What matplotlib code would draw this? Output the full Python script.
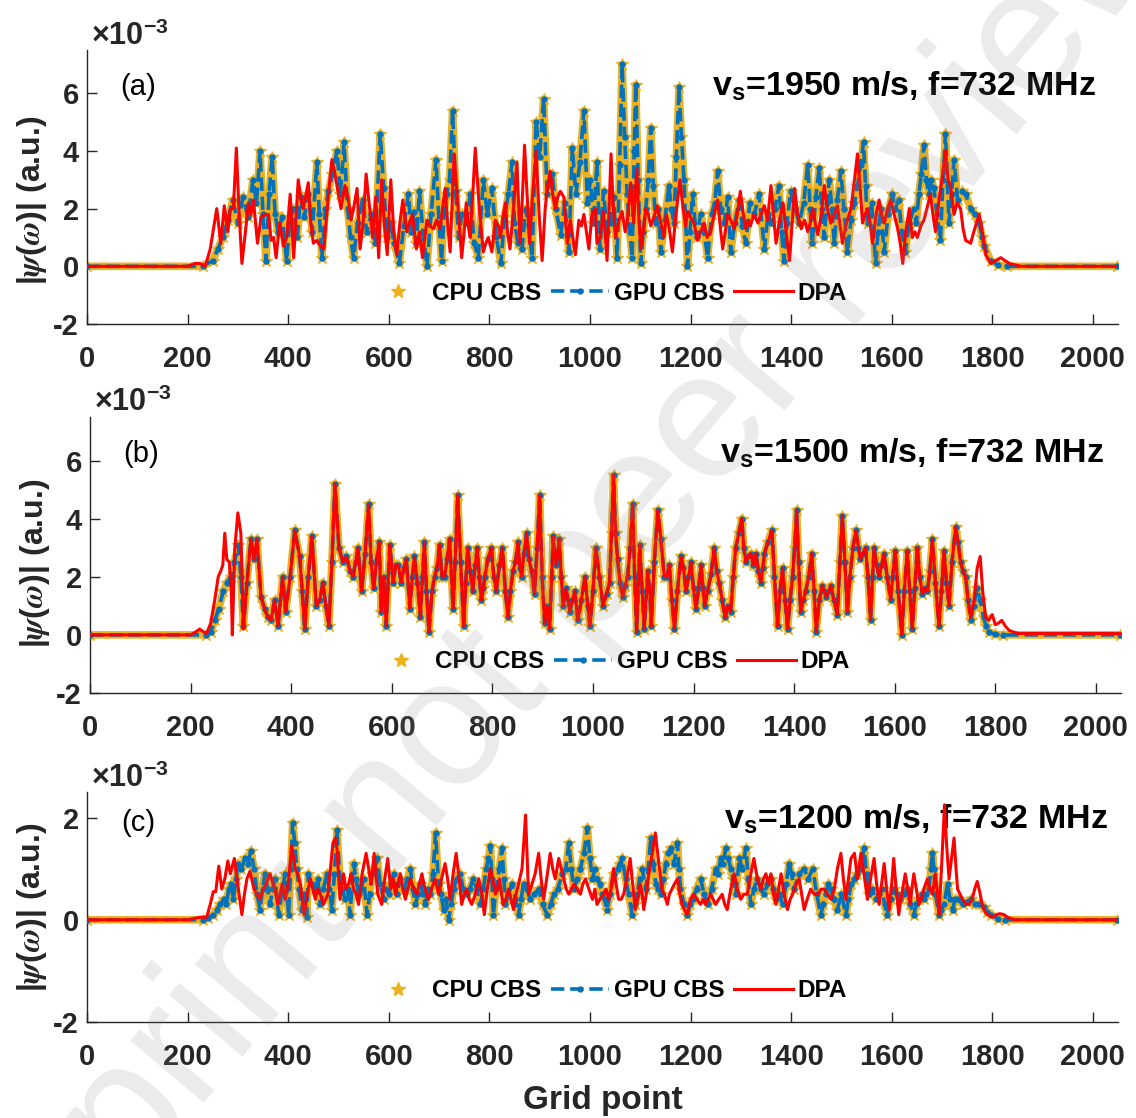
import numpy as np
import matplotlib
matplotlib.use("Agg")
import matplotlib.pyplot as plt
from matplotlib.lines import Line2D

# values in units of 1e-3 (the axes carry a x10^-3 multiplier)
# panel (a): v_s = 1950 m/s
a_cbs = [(0, 0.0), (230, 0.0), (250, 0.2), (260, 0.6), (270, 1.0), (280, 1.6), (290, 2.3), (300, 1.5),
         (310, 2.4), (320, 1.7), (330, 3.0), (337, 2.2), (344, 4.0), (350, 1.8), (356, 0.2), (362, 2.5),
         (368, 3.8), (374, 1.8), (380, 1.2), (388, 1.7), (397, 0.2), (403, 1.5), (410, 2.0), (418, 1.0),
         (425, 2.4), (432, 1.7), (440, 2.5), (448, 1.2), (457, 3.6), (462, 1.8), (467, 0.3), (474, 2.0),
         (480, 2.6), (488, 3.2), (497, 4.0), (504, 2.5), (511, 4.3), (518, 2.0), (524, 1.0), (530, 0.3),
         (538, 1.5), (548, 2.3), (556, 1.2), (565, 1.8), (573, 0.8), (583, 4.6), (590, 2.7), (597, 1.0),
         (603, 1.5), (611, 0.8), (621, 0.1), (630, 1.4), (639, 2.5), (645, 1.2), (650, 1.9), (655, 0.8),
         (661, 2.6), (668, 1.2), (676, 0.0), (684, 1.8), (694, 3.7), (700, 1.5), (705, 0.2), (710, 1.8),
         (715, 2.5), (721, 3.0), (727, 5.4), (733, 2.6), (739, 1.0), (745, 1.8), (755, 1.5), (762, 2.5),
         (770, 0.8), (778, 0.3), (788, 3.0), (796, 1.8), (805, 2.7), (814, 1.0), (823, 0.1), (830, 1.7),
         (838, 2.5), (845, 3.6), (850, 1.5), (857, 0.8), (865, 0.6), (872, 2.0), (878, 1.4), (885, 0.3),
         (893, 5.0), (900, 3.8), (908, 5.8), (915, 2.5), (925, 3.2), (932, 2.0), (942, 1.1), (950, 2.2),
         (958, 0.5), (965, 4.1), (972, 2.5), (980, 3.6), (988, 5.4), (995, 2.2), (1001, 3.0), (1007, 1.5),
         (1014, 3.6), (1020, 0.6), (1027, 2.6), (1034, 1.2), (1041, 1.5), (1047, 2.4), (1054, 0.3),
         (1059, 3.5), (1064, 7.0), (1069, 4.5), (1074, 2.5), (1079, 1.2), (1084, 0.3), (1088, 4.0),
         (1091, 6.3), (1096, 3.0), (1101, 0.1), (1106, 1.2), (1111, 2.0), (1116, 3.0), (1121, 4.8),
         (1126, 2.8), (1131, 1.5), (1136, 2.0), (1141, 0.5), (1149, 1.6), (1157, 2.8), (1162, 2.0),
         (1167, 1.5), (1172, 3.8), (1177, 6.2), (1182, 4.5), (1187, 3.0), (1194, 0.0), (1199, 1.2),
         (1204, 2.5), (1212, 1.0), (1220, 1.8), (1227, 1.2), (1234, 0.3), (1242, 1.8), (1248, 2.2),
         (1254, 3.3), (1260, 2.0), (1267, 1.5), (1274, 2.4), (1280, 0.5), (1288, 1.5), (1297, 2.3),
         (1303, 1.4), (1310, 0.8), (1318, 2.2), (1327, 1.8), (1336, 2.5), (1347, 0.6), (1354, 1.8),
         (1360, 1.5), (1368, 2.0), (1376, 2.8), (1381, 1.2), (1386, 0.2), (1392, 1.5), (1399, 2.6),
         (1408, 2.0), (1416, 1.5), (1425, 2.2), (1433, 3.5), (1438, 2.0), (1442, 0.8), (1449, 2.4),
         (1456, 3.4), (1461, 2.0), (1466, 1.0), (1471, 2.2), (1476, 3.0), (1481, 2.0), (1486, 0.8),
         (1492, 2.3), (1499, 3.3), (1505, 2.0), (1512, 0.5), (1519, 1.6), (1526, 2.2), (1532, 2.8),
         (1538, 3.5), (1544, 4.3), (1548, 2.8), (1552, 1.5), (1560, 2.2), (1568, 0.1), (1573, 1.2),
         (1578, 2.0), (1585, 0.5), (1593, 1.8), (1601, 2.5), (1607, 2.0), (1614, 2.3), (1620, 1.2),
         (1627, 0.5), (1635, 1.5), (1644, 2.0), (1649, 1.5), (1654, 2.5), (1659, 3.2), (1664, 4.2),
         (1669, 3.0), (1674, 2.5), (1679, 3.0), (1684, 2.7), (1690, 1.8), (1697, 0.9), (1702, 3.0),
         (1707, 4.6), (1711, 2.8), (1714, 1.5), (1719, 2.5), (1724, 3.7), (1731, 2.3), (1740, 2.6),
         (1747, 2.5), (1757, 2.0), (1765, 1.8), (1774, 1.5), (1780, 1.0), (1784, 0.7), (1797, 0.2),
         (1811, 0.05), (1830, 0.0), (2048, 0.0)]

a_dpa = [(0, 0.0), (200, 0.0), (215, 0.1), (225, 0.1), (235, 0.0), (245, 0.6), (258, 2.0), (266, 0.8),
         (273, 2.1), (280, 1.2), (285, 2.0), (291, 2.0), (297, 4.1), (302, 2.0), (308, 0.1), (315, 1.2),
         (321, 2.2), (326, 1.8), (331, 2.3), (339, 0.8), (346, 1.7), (354, 1.8), (361, 1.8), (366, 0.9),
         (371, 1.0), (376, 0.3), (383, 1.5), (391, 0.7), (397, 1.0), (404, 2.5), (411, 0.3), (420, 3.0),
         (425, 2.4), (430, 2.0), (440, 2.9), (445, 1.5), (450, 0.8), (457, 0.9), (464, 0.7), (471, 0.6),
         (480, 2.5), (487, 3.7), (492, 3.3), (497, 2.8), (505, 2.0), (513, 2.8), (519, 2.4), (525, 1.6),
         (530, 2.0), (537, 2.7), (543, 0.6), (549, 1.5), (555, 3.2), (561, 2.2), (568, 1.0), (574, 2.4),
         (580, 0.3), (586, 3.0), (591, 1.5), (597, 0.4), (604, 3.0), (610, 1.2), (616, 0.4), (622, 1.5),
         (628, 2.3), (636, 1.2), (641, 1.5), (647, 1.8), (655, 0.6), (661, 1.2), (667, 0.3), (676, 1.6),
         (682, 1.4), (689, 1.3), (695, 1.6), (702, 1.3), (707, 2.0), (712, 2.7), (717, 1.5), (722, 0.5),
         (730, 3.9), (738, 2.0), (745, 0.3), (750, 1.2), (754, 2.2), (758, 1.4), (762, 1.0), (767, 2.5),
         (772, 4.1), (780, 2.0), (788, 0.5), (793, 0.8), (798, 1.0), (805, 0.5), (812, 1.6), (818, 1.4),
         (822, 1.0), (828, 1.8), (832, 2.2), (836, 1.2), (841, 0.6), (848, 2.0), (855, 3.6), (861, 0.8),
         (866, 2.5), (870, 4.2), (875, 2.5), (880, 0.8), (886, 2.5), (893, 4.0), (899, 1.8), (905, 0.2),
         (911, 2.0), (916, 2.8), (921, 3.3), (926, 2.5), (931, 2.0), (936, 2.4), (941, 2.6), (948, 2.4),
         (955, 0.8), (961, 1.6), (966, 1.0), (971, 0.4), (978, 1.6), (983, 1.4), (988, 1.8), (993, 1.2),
         (998, 0.6), (1004, 1.8), (1011, 2.0), (1014, 0.8), (1020, 1.0), (1027, 1.9), (1034, 0.2),
         (1038, 2.0), (1042, 3.9), (1046, 2.2), (1051, 1.0), (1058, 1.6), (1064, 1.9), (1070, 1.2),
         (1074, 1.5), (1081, 2.9), (1087, 1.5), (1093, 3.4), (1097, 1.8), (1101, 0.6), (1106, 1.2),
         (1111, 2.0), (1116, 1.8), (1121, 1.4), (1127, 1.7), (1134, 2.1), (1140, 1.6), (1147, 1.0),
         (1152, 1.8), (1157, 1.4), (1164, 0.5), (1171, 1.8), (1179, 3.0), (1184, 2.2), (1190, 1.4),
         (1195, 1.9), (1200, 1.7), (1207, 1.5), (1214, 0.9), (1220, 1.2), (1227, 1.5), (1233, 1.0),
         (1240, 1.2), (1247, 1.8), (1254, 2.3), (1259, 1.4), (1264, 0.6), (1269, 1.2), (1274, 1.8),
         (1280, 1.6), (1287, 1.3), (1293, 1.8), (1299, 2.6), (1305, 1.8), (1310, 1.3), (1315, 1.6),
         (1319, 1.4), (1326, 1.8), (1334, 1.5), (1340, 1.8), (1347, 2.1), (1353, 1.6), (1360, 2.8),
         (1365, 1.8), (1370, 0.8), (1377, 1.6), (1384, 2.2), (1390, 1.2), (1397, 0.2), (1402, 1.5),
         (1407, 2.7), (1413, 1.8), (1420, 1.3), (1427, 1.6), (1433, 1.2), (1438, 1.5), (1443, 2.0),
         (1448, 1.5), (1453, 1.1), (1460, 1.8), (1466, 2.8), (1472, 2.0), (1479, 1.5), (1486, 1.8),
         (1492, 2.1), (1497, 1.5), (1502, 0.8), (1510, 1.5), (1519, 2.0), (1526, 3.0), (1532, 3.9),
         (1537, 2.8), (1542, 1.5), (1547, 1.8), (1552, 2.0), (1557, 1.5), (1562, 0.8), (1569, 1.8),
         (1575, 2.3), (1580, 1.8), (1585, 1.5), (1592, 2.0), (1598, 2.3), (1605, 1.8), (1612, 1.3),
         (1617, 0.8), (1622, 0.1), (1628, 1.2), (1635, 2.0), (1641, 1.0), (1646, 1.2), (1651, 1.0),
         (1658, 1.4), (1664, 1.6), (1670, 2.0), (1677, 2.5), (1682, 1.8), (1687, 1.2), (1694, 2.3),
         (1700, 3.0), (1707, 4.0), (1712, 3.0), (1717, 2.8), (1724, 1.8), (1730, 2.2), (1737, 2.0),
         (1742, 1.3), (1747, 0.9), (1757, 0.8), (1765, 1.3), (1774, 1.8), (1780, 1.2), (1787, 0.4),
         (1797, 0.1), (1807, 0.2), (1817, 0.3), (1825, 0.2), (1834, 0.1), (1857, 0.0), (2048, 0.0)]

# panel (b): v_s = 1500 m/s -- CBS and DPA overlap in the middle stretch
b_cbs_head = [(0, 0.0), (230, 0.0), (240, 0.1), (248, 0.5), (256, 0.9), (265, 1.5), (272, 1.8),
              (280, 2.0), (287, 2.5), (295, 3.1), (300, 2.0), (305, 0.3)]
b_dpa_head = [(0, 0.0), (200, 0.0), (210, 0.1), (218, 0.2), (226, 0.1), (232, 0.05), (240, 0.4),
              (248, 1.2), (255, 2.0), (260, 2.2), (264, 2.4), (268, 3.5), (272, 2.6), (277, 2.5),
              (281, 1.5), (283, 0.0), (288, 3.0), (294, 4.2), (300, 3.5), (305, 0.2)]
b_mid = [(312, 1.8), (320, 3.3), (326, 2.6), (332, 3.3), (340, 1.3), (347, 0.9), (354, 0.6), (360, 0.5),
         (367, 1.2), (374, 0.3), (383, 2.0), (389, 0.8), (398, 2.0), (407, 3.6), (417, 2.7), (422, 1.5),
         (427, 0.2), (434, 2.0), (441, 3.4), (450, 1.0), (457, 1.2), (463, 1.8), (469, 1.0), (475, 0.3),
         (481, 2.5), (487, 5.2), (495, 3.0), (503, 2.5), (510, 2.7), (517, 2.2), (523, 2.0), (528, 2.5),
         (533, 3.0), (540, 1.5), (547, 2.8), (554, 4.5), (559, 2.5), (564, 1.6), (570, 2.6), (575, 3.2),
         (579, 0.8), (584, 2.0), (589, 0.3), (596, 3.1), (603, 1.8), (608, 2.4), (613, 2.4), (619, 1.8),
         (624, 2.3), (629, 2.6), (636, 0.9), (641, 2.0), (645, 2.7), (651, 1.8), (657, 0.6), (661, 2.0),
         (665, 3.2), (669, 1.5), (674, 0.1), (680, 1.5), (685, 2.0), (690, 2.3), (695, 3.1), (700, 2.0),
         (705, 2.0), (710, 2.6), (715, 3.3), (722, 0.9), (726, 2.5), (731, 4.8), (737, 2.5), (743, 0.3),
         (747, 1.8), (751, 3.0), (756, 2.2), (761, 1.5), (766, 2.4), (770, 3.0), (774, 2.0), (778, 1.2),
         (782, 1.6), (785, 2.0), (791, 2.6), (798, 3.0), (803, 2.0), (808, 1.5), (814, 2.4), (820, 3.0),
         (826, 1.5), (831, 0.6), (836, 1.5), (841, 2.2), (846, 2.5), (851, 3.2), (855, 2.3), (858, 2.0),
         (863, 2.8), (868, 3.5), (873, 2.6), (878, 2.2), (884, 1.4), (889, 3.0), (894, 4.8), (899, 2.0),
         (904, 0.4), (909, 1.0), (914, 0.2), (918, 2.0), (921, 3.4), (927, 2.4), (933, 3.3), (937, 2.0),
         (941, 1.0), (947, 1.6), (954, 0.8), (959, 1.2), (964, 1.5), (970, 0.5), (977, 1.2), (984, 2.0),
         (990, 1.0), (994, 0.3), (1000, 1.5), (1006, 3.0), (1013, 2.0), (1020, 1.0), (1027, 1.4),
         (1033, 1.8), (1037, 3.5), (1041, 5.5), (1045, 3.5), (1049, 2.6), (1054, 1.8), (1059, 1.3),
         (1064, 1.7), (1069, 2.0), (1074, 3.0), (1079, 4.5), (1083, 2.0), (1087, 0.1), (1093, 3.1),
         (1098, 1.5), (1102, 0.2), (1109, 2.2), (1113, 1.5), (1116, 0.3), (1122, 2.5), (1129, 4.3),
         (1135, 3.3), (1142, 2.0), (1147, 2.0), (1152, 2.4), (1157, 1.2), (1162, 0.2), (1168, 1.5),
         (1175, 2.7), (1180, 2.3), (1185, 1.5), (1190, 2.0), (1195, 2.5), (1200, 1.6), (1205, 0.9),
         (1210, 1.6), (1215, 2.4), (1219, 1.6), (1222, 1.0), (1228, 1.5), (1235, 2.1), (1241, 3.0),
         (1246, 2.2), (1251, 1.8), (1257, 1.2), (1263, 0.6), (1268, 1.0), (1274, 0.8), (1279, 2.0),
         (1284, 3.0), (1290, 3.5), (1296, 4.0), (1300, 3.0), (1304, 2.5), (1309, 2.7), (1314, 2.8),
         (1319, 2.4), (1324, 2.8), (1329, 2.2), (1334, 1.8), (1338, 2.3), (1341, 2.8), (1348, 3.2),
         (1356, 3.6), (1361, 2.0), (1367, 0.3), (1372, 1.5), (1377, 2.3), (1382, 1.2), (1387, 0.2),
         (1392, 1.2), (1397, 2.0), (1401, 3.0), (1405, 4.3), (1409, 2.5), (1413, 0.8), (1418, 1.2),
         (1423, 1.5), (1429, 2.0), (1435, 2.8), (1440, 1.5), (1444, 0.1), (1450, 1.2), (1456, 1.7),
         (1460, 1.5), (1464, 1.3), (1469, 1.5), (1473, 1.7), (1479, 1.2), (1486, 0.7), (1491, 2.5),
         (1496, 4.1), (1501, 2.5), (1506, 0.8), (1511, 2.0), (1517, 3.0), (1523, 3.6), (1528, 3.0),
         (1532, 2.6), (1537, 2.8), (1542, 3.0), (1547, 2.0), (1552, 0.5), (1556, 2.0), (1559, 3.0),
         (1564, 2.4), (1569, 2.0), (1574, 2.4), (1579, 2.8), (1585, 2.0), (1592, 1.2), (1596, 2.0),
         (1601, 2.9), (1607, 1.5), (1614, 0.0), (1619, 1.5), (1625, 2.9), (1630, 1.5), (1635, 0.2),
         (1640, 1.6), (1645, 3.0), (1650, 2.0), (1655, 1.4), (1660, 1.6), (1665, 1.5), (1670, 2.2),
         (1675, 3.3), (1681, 1.8), (1688, 0.3), (1693, 1.5), (1698, 2.9), (1703, 1.8), (1708, 1.0),
         (1714, 2.5), (1721, 3.7), (1726, 3.2), (1731, 2.5), (1736, 2.2), (1741, 2.0), (1746, 1.2)]
b_cbs_tail = [(1751, 0.5), (1757, 1.0), (1764, 1.6), (1770, 1.2), (1777, 0.6), (1782, 0.3), (1787, 0.1),
              (1800, 0.02), (1815, 0.0), (2048, 0.0)]
b_dpa_tail = [(1751, 0.6), (1758, 1.2), (1764, 2.3), (1770, 2.7), (1775, 1.5), (1781, 0.6), (1787, 0.5),
              (1794, 0.7), (1800, 0.35), (1806, 0.4), (1813, 0.5), (1820, 0.3), (1828, 0.15),
              (1845, 0.05), (2048, 0.05)]

# panel (c): v_s = 1200 m/s
c_cbs = [(0, 0.0), (230, 0.0), (240, 0.03), (251, 0.1), (258, 0.2), (265, 0.3), (272, 0.4), (277, 0.3),
         (282, 0.6), (287, 0.7), (291, 0.4), (296, 0.8), (301, 1.1), (307, 1.0), (314, 1.2), (320, 1.1),
         (326, 1.35), (332, 1.0), (338, 0.5), (344, 0.2), (349, 0.6), (354, 0.9), (359, 0.6), (364, 0.3),
         (369, 0.6), (374, 0.8), (381, 0.1), (387, 0.5), (394, 0.9), (401, 0.1), (405, 1.0), (409, 1.9),
         (413, 1.5), (417, 1.0), (422, 0.6), (427, 0.2), (432, 0.5), (437, 0.05), (440, 0.9), (447, 0.7),
         (454, 0.6), (459, 0.8), (464, 0.3), (470, 0.6), (477, 0.9), (482, 0.6), (487, 0.2), (492, 0.9),
         (497, 1.75), (503, 0.8), (508, 0.6), (513, 0.4), (518, 0.6), (523, 0.1), (530, 1.1), (535, 0.8),
         (540, 0.5), (545, 0.6), (550, 0.8), (557, 0.1), (562, 0.5), (567, 0.9), (572, 1.0), (577, 1.2),
         (583, 0.7), (590, 0.4), (595, 0.6), (600, 0.5), (605, 0.7), (610, 0.9), (616, 0.5), (623, 0.8),
         (630, 0.6), (637, 0.8), (643, 1.0), (648, 0.6), (653, 0.3), (658, 0.5), (663, 0.7), (668, 0.5),
         (673, 0.3), (678, 0.6), (683, 0.5), (688, 0.9), (693, 1.7), (699, 0.7), (704, 0.5), (709, 0.2),
         (714, 0.4), (719, 0.0), (724, 0.3), (729, 0.6), (735, 0.8), (742, 0.9), (748, 0.6), (755, 0.5),
         (761, 0.6), (768, 0.8), (775, 0.6), (782, 0.3), (788, 0.6), (794, 1.0), (798, 1.2), (802, 1.45),
         (805, 0.8), (808, 0.1), (813, 0.6), (820, 1.0), (825, 1.4), (829, 0.8), (832, 0.3), (838, 0.5),
         (845, 0.7), (852, 0.4), (858, 0.1), (863, 0.4), (868, 0.7), (875, 0.6), (881, 0.4), (889, 0.5),
         (898, 0.6), (906, 0.3), (915, 0.1), (922, 0.3), (928, 0.5), (936, 0.6), (945, 0.9), (952, 1.0),
         (958, 1.5), (963, 1.0), (968, 0.6), (975, 0.8), (981, 1.0), (988, 1.3), (995, 1.8), (1000, 1.2),
         (1005, 0.8), (1010, 1.0), (1014, 0.8), (1020, 0.7), (1024, 0.5), (1029, 0.4), (1034, 0.2),
         (1040, 0.5), (1047, 0.9), (1055, 1.0), (1060, 1.1), (1064, 1.2), (1071, 0.8), (1077, 0.5),
         (1084, 0.1), (1089, 0.3), (1094, 0.5), (1099, 0.8), (1104, 1.0), (1111, 0.6), (1116, 1.0),
         (1121, 1.6), (1126, 1.1), (1131, 0.7), (1136, 0.6), (1141, 0.5), (1146, 0.8), (1151, 1.1),
         (1156, 1.3), (1161, 1.4), (1167, 1.1), (1174, 1.5), (1177, 1.0), (1180, 0.6), (1187, 0.3),
         (1194, 0.1), (1199, 0.3), (1204, 0.4), (1212, 0.6), (1220, 0.8), (1227, 0.5), (1234, 0.3),
         (1242, 0.6), (1250, 1.0), (1255, 0.9), (1260, 1.2), (1265, 1.1), (1270, 1.4), (1275, 1.2),
         (1280, 1.0), (1285, 0.8), (1290, 0.5), (1297, 1.2), (1303, 1.0), (1310, 1.4), (1315, 0.8),
         (1320, 0.3), (1326, 0.6), (1333, 0.8), (1340, 0.6), (1346, 0.5), (1353, 0.7), (1360, 0.8),
         (1365, 0.6), (1370, 0.4), (1377, 0.5), (1383, 0.3), (1390, 0.7), (1396, 1.1), (1401, 0.9),
         (1406, 0.6), (1416, 0.9), (1426, 1.0), (1434, 0.8), (1443, 1.0), (1451, 0.5), (1459, 0.1),
         (1464, 0.3), (1469, 0.5), (1474, 0.7), (1479, 0.6), (1485, 0.4), (1492, 0.2), (1500, 0.5),
         (1509, 0.1), (1514, 0.4), (1519, 0.7), (1526, 0.8), (1532, 0.9), (1538, 1.0), (1545, 1.4),
         (1550, 0.9), (1555, 0.5), (1561, 0.6), (1568, 0.4), (1575, 0.5), (1581, 0.6), (1586, 0.3),
         (1591, 0.1), (1598, 0.4), (1604, 0.6), (1610, 0.5), (1617, 0.4), (1624, 0.5), (1631, 0.6),
         (1637, 0.3), (1644, 0.1), (1649, 0.3), (1654, 0.4), (1660, 0.5), (1664, 0.4), (1669, 0.5),
         (1674, 0.6), (1678, 1.0), (1681, 1.3), (1684, 1.0), (1687, 0.5), (1694, 0.1), (1699, 0.2),
         (1704, 0.3), (1711, 0.7), (1716, 0.4), (1721, 0.2), (1726, 0.4), (1731, 0.4), (1741, 0.3),
         (1750, 0.35), (1757, 0.4), (1765, 0.3), (1774, 0.3), (1784, 0.25), (1790, 0.15), (1797, 0.1),
         (1811, 0.02), (1825, 0.0), (2048, 0.0)]

c_dpa = [(0, 0.0), (200, 0.0), (215, 0.03), (225, 0.05), (238, 0.05), (245, 0.3), (251, 0.55), (256, 0.55),
         (262, 1.05), (268, 0.6), (274, 0.8), (280, 1.15), (285, 0.9), (293, 1.2), (297, 0.9), (301, 0.6),
         (308, 0.1), (313, 0.5), (318, 0.8), (324, 0.95), (332, 0.6), (338, 0.5), (344, 0.4), (350, 0.6),
         (356, 0.7), (364, 0.9), (370, 0.7), (374, 0.6), (379, 0.3), (384, 0.5), (388, 0.7), (394, 0.4),
         (400, 0.7), (407, 1.45), (414, 1.0), (419, 0.9), (424, 0.7), (432, 0.1), (438, 0.5), (444, 0.8),
         (449, 0.6), (454, 0.4), (459, 0.6), (464, 0.5), (470, 0.3), (479, 0.5), (484, 1.0), (489, 1.5),
         (494, 1.6), (497, 1.4), (503, 0.4), (510, 0.9), (515, 0.6), (520, 0.7), (525, 0.9), (530, 0.6),
         (535, 0.5), (540, 0.3), (547, 0.9), (555, 1.3), (560, 1.0), (565, 0.7), (571, 1.3), (578, 0.5),
         (586, 0.3), (592, 0.8), (598, 1.2), (604, 0.6), (609, 0.8), (613, 0.5), (618, 0.7), (623, 0.9),
         (628, 0.6), (633, 0.4), (638, 0.6), (643, 0.8), (650, 0.6), (656, 0.5), (661, 0.7), (666, 0.9),
         (672, 0.6), (679, 0.4), (685, 0.6), (692, 0.8), (699, 0.5), (705, 0.8), (712, 1.1), (717, 0.8),
         (722, 0.4), (728, 0.9), (734, 1.3), (740, 0.8), (745, 0.3), (750, 0.5), (755, 0.6), (760, 0.4),
         (765, 0.3), (772, 0.5), (779, 0.8), (785, 0.5), (790, 0.1), (796, 0.6), (802, 1.0), (807, 0.8),
         (812, 0.5), (816, 0.6), (820, 0.8), (827, 0.3), (833, 0.4), (838, 0.6), (843, 0.4), (848, 0.2),
         (853, 0.5), (858, 0.7), (865, 1.0), (872, 2.05), (878, 0.5), (885, 0.7), (891, 0.9), (898, 1.3),
         (903, 0.8), (908, 0.4), (914, 0.8), (921, 1.3), (926, 1.0), (931, 0.8), (938, 1.2), (943, 1.0),
         (948, 0.8), (953, 0.6), (958, 0.5), (963, 0.6), (968, 0.7), (975, 0.6), (981, 0.5), (986, 0.7),
         (991, 0.8), (998, 0.6), (1005, 0.4), (1010, 0.6), (1014, 0.3), (1020, 0.4), (1027, 0.5),
         (1032, 0.6), (1037, 0.4), (1042, 0.6), (1047, 1.0), (1052, 0.7), (1057, 0.4), (1062, 0.4),
         (1067, 0.5), (1073, 0.8), (1080, 1.2), (1085, 0.7), (1090, 0.2), (1095, 0.4), (1100, 0.7),
         (1104, 0.5), (1107, 0.2), (1112, 0.5), (1117, 0.9), (1124, 1.3), (1130, 1.7), (1136, 1.2),
         (1143, 0.6), (1148, 0.5), (1154, 0.3), (1158, 0.5), (1163, 0.6), (1168, 0.7), (1174, 0.8),
         (1179, 0.5), (1183, 0.3), (1188, 0.2), (1193, 0.1), (1200, 0.4), (1206, 0.5), (1213, 0.4),
         (1220, 0.3), (1225, 0.4), (1230, 0.3), (1235, 0.4), (1240, 0.5), (1245, 0.4), (1250, 0.3),
         (1256, 0.4), (1263, 0.5), (1268, 0.3), (1273, 0.2), (1280, 0.6), (1287, 0.9), (1293, 0.6),
         (1300, 0.4), (1306, 0.5), (1313, 0.5), (1320, 0.9), (1326, 1.2), (1333, 0.8), (1340, 0.6),
         (1345, 0.8), (1350, 0.9), (1355, 0.7), (1360, 0.9), (1365, 0.5), (1370, 0.3), (1375, 0.6),
         (1380, 0.9), (1386, 0.5), (1393, 0.2), (1398, 0.4), (1403, 0.5), (1410, 0.7), (1416, 0.8),
         (1421, 0.5), (1426, 0.2), (1432, 0.4), (1439, 0.6), (1446, 0.5), (1453, 0.5), (1460, 0.6),
         (1466, 0.6), (1472, 0.5), (1479, 0.4), (1486, 0.6), (1492, 1.0), (1499, 1.3), (1504, 0.8),
         (1509, 0.4), (1514, 0.8), (1519, 1.2), (1526, 1.3), (1532, 0.8), (1539, 1.3), (1545, 0.9),
         (1552, 0.4), (1558, 0.8), (1565, 1.2), (1570, 0.7), (1575, 0.3), (1580, 0.7), (1585, 1.1),
         (1590, 0.6), (1595, 0.2), (1600, 0.7), (1604, 1.2), (1609, 0.6), (1614, 0.1), (1620, 0.5),
         (1627, 0.9), (1632, 0.6), (1637, 0.3), (1640, 0.6), (1644, 0.9), (1649, 0.6), (1654, 0.3),
         (1659, 0.4), (1664, 0.6), (1671, 0.8), (1676, 0.6), (1681, 0.5), (1687, 0.9), (1691, 0.5),
         (1694, 0.1), (1699, 1.0), (1705, 2.25), (1709, 1.5), (1714, 0.8), (1719, 1.2), (1724, 1.6),
         (1728, 1.0), (1731, 0.6), (1736, 0.5), (1741, 0.4), (1748, 0.3), (1754, 0.3), (1760, 0.4),
         (1765, 0.6), (1770, 0.75), (1775, 0.55), (1780, 0.3), (1786, 0.15), (1791, 0.1), (1801, 0.05),
         (1808, 0.1), (1815, 0.12), (1823, 0.1), (1832, 0.04), (1845, 0.0), (2048, 0.0)]

panel_tags = ['(a)', '(b)', '(c)']
speeds = [1950, 1500, 1200]
freq_mhz = 732
legend_labels = ['CPU CBS', 'GPU CBS', 'DPA']

CPU_COLOR = '#EDB120'
GPU_COLOR = '#0072BD'
DPA_COLOR = '#FF0000'
TXT = '#262626'

plt.rcParams['font.family'] = ['Liberation Sans', 'DejaVu Sans']
plt.rcParams['font.weight'] = 'bold'
plt.rcParams['axes.labelweight'] = 'bold'
plt.rcParams['axes.unicode_minus'] = False
plt.rcParams['mathtext.fontset'] = 'custom'
plt.rcParams['mathtext.rm'] = 'Liberation Sans:bold'
plt.rcParams['mathtext.bf'] = 'Liberation Sans:bold'
plt.rcParams['mathtext.it'] = 'STIXGeneral:italic'


def draw_panel(ax, cbs, dpa, tag, vs, ylim, yticks, leg_y, txt_xy, ylab_y):
    cx, cy = zip(*cbs)
    dx, dy = zip(*dpa)
    # CPU CBS: stars (with an orange halo along the curve)
    ax.plot(cx, cy, '-', color=CPU_COLOR, lw=5.5, zorder=1, solid_capstyle='round')
    ax.plot(cx, cy, '*', color=CPU_COLOR, ms=9, zorder=2)
    # GPU CBS: dashed with dots
    ax.plot(cx, cy, '--', marker='.', color=GPU_COLOR, lw=2.6, ms=7, zorder=3)
    # DPA
    ax.plot(dx, dy, '-', color=DPA_COLOR, lw=2.2, zorder=4)

    ax.set_xlim(0, 2050)
    ax.set_ylim(*ylim)
    ax.set_xticks(np.arange(0, 2001, 200))
    ax.set_yticks(yticks)
    ax.spines['top'].set_visible(False)
    ax.spines['right'].set_visible(False)
    for s in ['left', 'bottom']:
        ax.spines[s].set_color(TXT)
        ax.spines[s].set_linewidth(1.0)
    ax.tick_params(direction='in', length=7, width=1, colors=TXT, labelsize=21, labelcolor=TXT)
    ax.tick_params(axis='x', pad=15)
    ax.tick_params(axis='y', pad=6)

    ax.set_ylabel(r'|$\psi(\omega)$| (a.u.)', fontsize=23, color=TXT)
    ax.yaxis.set_label_coords(-0.037, ylab_y)

    ax.text(0.05, 0.865, tag, transform=ax.transAxes, fontsize=21, fontweight='normal',
            ha='center', va='center')
    ax.text(txt_xy[0], txt_xy[1], r'$\mathrm{v_s}$=%d m/s, f=%d MHz' % (vs, freq_mhz),
            transform=ax.transAxes, fontsize=24.5, ha='left', va='baseline')
    ax.text(0.004, 1.02, r'$\times$10$^{\mathrm{-3}}$', transform=ax.transAxes, fontsize=22,
            ha='left', va='baseline', color=TXT)

    handles = [Line2D([], [], ls='none', marker='*', color=CPU_COLOR, ms=10),
               Line2D([], [], ls='--', marker='.', color=GPU_COLOR, lw=2.6, ms=7),
               Line2D([], [], ls='-', color=DPA_COLOR, lw=2.2)]
    ax.legend(handles, legend_labels, loc='center', bbox_to_anchor=(0.505, leg_y), ncol=3,
              frameon=False, fontsize=17.5, handlelength=2.4, handletextpad=0.2, columnspacing=0.4)


fig = plt.figure(figsize=(11.36, 11.18), dpi=100)
ax_a = fig.add_axes([87 / 1136, 1 - 324 / 1118, 1031 / 1136, 274 / 1118])
ax_b = fig.add_axes([90 / 1136, 1 - 693 / 1118, 1031 / 1136, 276 / 1118])
ax_c = fig.add_axes([87 / 1136, 1 - 1022 / 1118, 1031 / 1136, 230 / 1118])

draw_panel(ax_a, a_cbs, a_dpa, panel_tags[0], speeds[0], (-2, 7.5), [-2, 0, 2, 4, 6], 0.113,
           (0.606, 0.832), 0.45)
draw_panel(ax_b, b_cbs_head + b_mid + b_cbs_tail, b_dpa_head + b_mid + b_dpa_tail, panel_tags[1],
           speeds[1], (-2, 7.5), [-2, 0, 2, 4, 6], 0.113, (0.611, 0.833), 0.47)
draw_panel(ax_c, c_cbs, c_dpa, panel_tags[2], speeds[2], (-2, 2.5), [-2, 0, 2], 0.135,
           (0.618, 0.839), 0.5)
ax_c.set_xlabel('Grid point', fontsize=24, color=TXT, labelpad=10)

# faint preprint watermark across the figure
fig.text(0.525, 0.497, 'Preprint not peer reviewed', rotation=50, fontsize=130, color='0.5',
         alpha=0.16, ha='center', va='center', fontweight='normal', zorder=10)

fig.savefig('out.png', dpi=100)
